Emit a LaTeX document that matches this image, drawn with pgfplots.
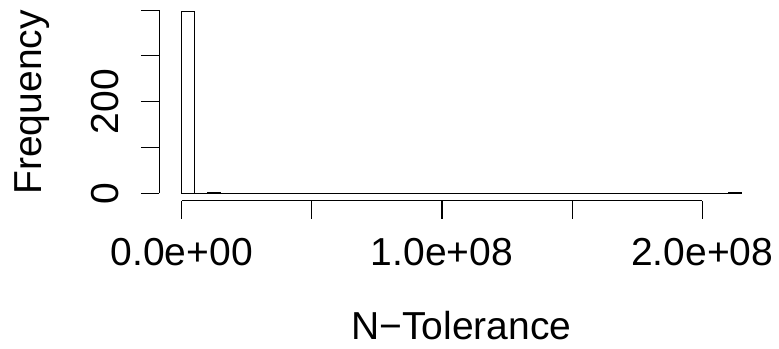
\documentclass[border=0pt]{standalone}
\usepackage{pgfplots}
\pgfplotsset{compat=1.18}
\usepackage{fontspec}
\setmainfont{Liberation Sans}
\newcommand{\rfont}{\fontsize{39bp}{46bp}\selectfont}
\begin{document}
\begin{tikzpicture}
\useasboundingbox (0,0) rectangle (779bp,349bp);
\begin{axis}[
  at={(159.3bp,148.4bp)}, anchor=south west,
  scale only axis, width=604.4bp, height=196.4bp,
  xmin=-8.6e6, xmax=2.236e8, ymin=-15.88, ymax=412.88,
  clip=false,
  axis line style={draw=none},
  tick align=outside, major tick length=18.3bp,
  tick style={black, line width=1.1bp},
  xtick pos=bottom, ytick pos=left,
  xtick={0,5e7,1e8,1.5e8,2e8},
  xticklabels={0.0e+00,,1.0e+08,,2.0e+08},
  ytick={0,100,200,300,400},
  yticklabels={0,,200,,},
  scaled x ticks=false,
  xticklabel style={font=\rfont, anchor=base, yshift=-46.7bp},
  yticklabel style={font=\rfont, rotate=90, anchor=base, yshift=22bp},
  xlabel={N\textminus Tolerance},
  ylabel={Frequency},
  xlabel style={font=\rfont, at={(rel axis cs:0.5,-0.7062)}, anchor=base},
  ylabel style={font=\rfont, at={(rel axis cs:-0.1941,0.5)}, anchor=base},
]
\addplot[ybar interval, fill=white, draw=black, line width=1.1bp] coordinates {
(0,397) (5e6,0) (1e7,1) (1.5e7,0) (2e7,0) (2.5e7,0) (3e7,0) (3.5e7,0) (4e7,0) (4.5e7,0)
(5e7,0) (5.5e7,0) (6e7,0) (6.5e7,0) (7e7,0) (7.5e7,0) (8e7,0) (8.5e7,0) (9e7,0) (9.5e7,0)
(1e8,0) (1.05e8,0) (1.1e8,0) (1.15e8,0) (1.2e8,0) (1.25e8,0) (1.3e8,0) (1.35e8,0) (1.4e8,0) (1.45e8,0)
(1.5e8,0) (1.55e8,0) (1.6e8,0) (1.65e8,0) (1.7e8,0) (1.75e8,0) (1.8e8,0) (1.85e8,0) (1.9e8,0) (1.95e8,0)
(2e8,0) (2.05e8,0) (2.1e8,1) (2.15e8,1)
};
\draw[line width=1.1bp] (axis cs:0,-15.88) -- (axis cs:2e8,-15.88);
\draw[line width=1.1bp] (axis cs:-8.6e6,0) -- (axis cs:-8.6e6,400);
\end{axis}
\end{tikzpicture}
\end{document}
